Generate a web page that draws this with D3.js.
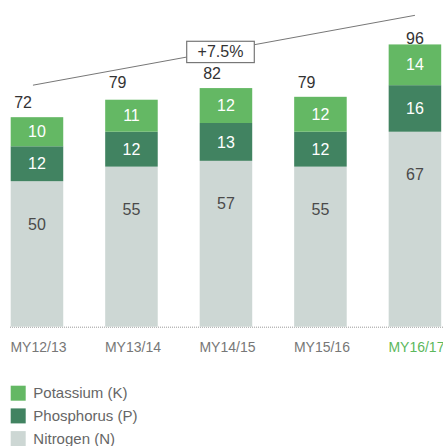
<!DOCTYPE html>
<html>
<head>
<meta charset="utf-8">
<script src="https://cdn.jsdelivr.net/npm/d3@7"></script>
<style>
  html, body { margin: 0; padding: 0; background: #fff; }
  svg { display: block; font-family: "Liberation Sans", Arial, Helvetica, sans-serif; }
</style>
</head>
<body>
<svg id="chart" width="443" height="446"></svg>
<script>
// Fertilizer consumption by nutrient, marketing years
const categories = ["MY12/13", "MY13/14", "MY14/15", "MY15/16", "MY16/17"];
const nitrogen   = [50, 55, 57, 55, 67];
const phosphorus = [12, 12, 13, 12, 16];
const potassium  = [10, 11, 12, 12, 14];
const totals     = [72, 79, 82, 79, 96];
const growthLabel = "+7.5%";
const legendLabels = ["Potassium (K)", "Phosphorus (P)", "Nitrogen (N)"];

const colors = { K: "#64b864", P: "#418361", N: "#cdd7d4" };
const highlight = categories.length - 1;

const svg = d3.select("#chart");

const x = d3.scaleBand()
  .domain(categories)
  .range([10.7, 441.2])
  .paddingInner(0.444)
  .paddingOuter(0);

const baseY = 326.7;
const y = d3.scaleLinear().domain([0, 100]).range([baseY, baseY - 291]);

// stack N (bottom), P, K (top)
const rows = categories.map((c, i) => ({ cat: c, N: nitrogen[i], P: phosphorus[i], K: potassium[i] }));
const stack = d3.stack().keys(["N", "P", "K"])(rows);

// dotted baseline
svg.append("line")
  .attr("x1", 10).attr("x2", 443)
  .attr("y1", baseY + 0.5).attr("y2", baseY + 0.5)
  .attr("stroke", "#9a9a9a").attr("stroke-width", 1)
  .attr("stroke-dasharray", "1,1");

const layers = svg.selectAll("g.layer").data(stack).join("g")
  .attr("class", "layer")
  .attr("fill", d => colors[d.key]);

layers.selectAll("rect").data(d => d).join("rect")
  .attr("x", d => x(d.data.cat))
  .attr("width", x.bandwidth())
  .attr("y", d => y(d[1]))
  .attr("height", d => y(d[0]) - y(d[1]));

// segment value labels
stack.forEach(layer => {
  svg.append("g").selectAll("text").data(layer).join("text")
    .attr("x", d => x(d.data.cat) + x.bandwidth() / 2)
    .attr("y", d => layer.key === "N" ? y(d[1]) + 43 : (y(d[0]) + y(d[1])) / 2)
    .attr("dy", "0.35em")
    .attr("text-anchor", "middle")
    .attr("font-size", 16)
    .attr("fill", layer.key === "N" ? "#4a4a4a" : "#ffffff")
    .text(d => d.data[layer.key]);
});

// totals above bars
svg.append("g").selectAll("text").data(totals).join("text")
  .attr("x", (d, i) => i === highlight ? x(categories[i]) + x.bandwidth() / 2 : x(categories[i]) + 3.5)
  .attr("y", (d, i) => y(d) - (i === highlight ? 3.7 : 9))
  .attr("text-anchor", (d, i) => i === highlight ? "middle" : "start")
  .attr("font-size", 16)
  .attr("fill", "#333")
  .text(d => d);

// growth trend line from first to last total
const first = 0, last = categories.length - 1;
const tx1 = x(categories[first]) + x.bandwidth() / 2 - 4;
const tx2 = x(categories[last]) + x.bandwidth() / 2;
const ty1 = y(totals[first]) - 32;
const ty2 = y(totals[last]) - 32;
svg.append("line")
  .attr("x1", tx1).attr("y1", ty1)
  .attr("x2", tx2).attr("y2", ty2)
  .attr("stroke", "#777").attr("stroke-width", 1);

const bx = 220.5;
const by = ty1 + (ty2 - ty1) * (bx - tx1) / (tx2 - tx1) + 1;
svg.append("rect")
  .attr("x", bx - 33.8).attr("y", by - 10.6)
  .attr("width", 67.6).attr("height", 21.3)
  .attr("fill", "#fff").attr("stroke", "#777").attr("stroke-width", 1.2);
svg.append("text")
  .attr("x", bx).attr("y", by)
  .attr("dy", "0.35em")
  .attr("text-anchor", "middle")
  .attr("font-size", 16)
  .attr("fill", "#333")
  .text(growthLabel);

// category axis labels
svg.append("g").selectAll("text").data(categories).join("text")
  .attr("x", d => x(d) + x.bandwidth() / 2 + 1.5)
  .attr("y", 351.7)
  .attr("text-anchor", "middle")
  .attr("font-size", 14)
  .attr("fill", (d, i) => i === highlight ? "#5cb85c" : "#777")
  .text(d => d);

// legend
const legendColors = [colors.K, colors.P, colors.N];
const lg = svg.append("g").selectAll("g").data(legendLabels).join("g")
  .attr("transform", (d, i) => `translate(10.7, ${385.7 + i * 22.7})`);
lg.append("rect").attr("width", 15).attr("height", 15)
  .attr("fill", (d, i) => legendColors[i]);
lg.append("text")
  .attr("x", 22.6).attr("y", 7.5).attr("dy", "0.35em")
  .attr("font-size", 15).attr("fill", "#666")
  .text(d => d);
</script>
</body>
</html>
